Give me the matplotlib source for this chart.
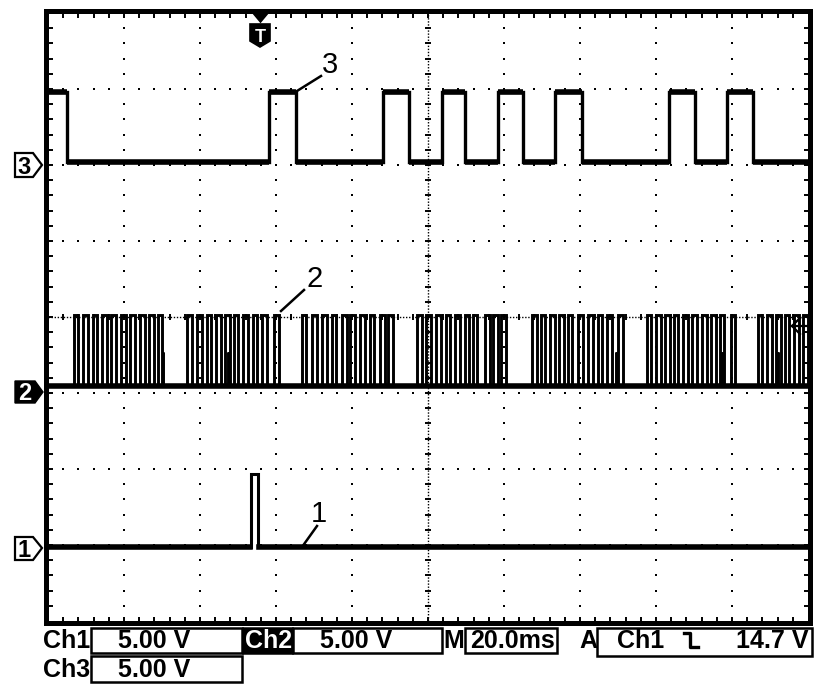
import matplotlib
matplotlib.use("Agg")
import matplotlib.pyplot as plt
from matplotlib.patches import Rectangle, Polygon
from matplotlib.lines import Line2D

plt.rcParams['font.family'] = ['Liberation Sans', 'DejaVu Sans']

W, H = 832, 690

# ---------------- data ----------------
TIME_PER_DIV = 20.0      # ms / div
VOLTS_PER_DIV = 5.0      # V / div
N_XDIV, N_YDIV = 10, 8

# channel ground markers (divisions from the bottom of the screen)
CH1_POS, CH2_POS, CH3_POS = 1.0, 3.0, 6.0

# Channel 3: starts high and toggles at each edge (ms)
CH3_LOW, CH3_HIGH = 0.2, 4.8
CH3_EDGES = [5.0, 58.2, 65.3, 88.2, 95.0, 103.7, 109.7, 118.4, 125.0,
             133.4, 140.5, 163.4, 170.3, 178.7, 185.5]

# Channel 1: single pulse (rise, fall) in ms
CH1_LOW, CH1_HIGH = -0.1, 4.7
CH1_PULSE = [53.4, 55.2]

# Channel 2: pulse bursts (rise times, ms)
CH2_LOW, CH2_HIGH = 0.45, 5.1
CH2_PULSE_WIDTH = 1.2
CH2_RISES = [
    6.8, 9.2, 11.8, 14.2, 16.6, 19.2, 21.6, 24.2, 26.6, 28.9,
    36.6, 39.2, 41.8, 44.2, 46.6, 48.9, 51.3, 53.9, 56.3, 59.5,
    66.8, 69.5, 72.1, 74.7, 77.4, 79.5, 82.1, 84.7, 87.4, 89.5,
    97.1, 99.5, 102.1, 104.7, 107.1, 109.7, 111.8, 115.0, 117.1, 119.2,
    127.4, 129.7, 132.1, 134.5, 136.8, 139.5, 142.1, 144.7, 147.1, 150.0,
    157.6, 160.0, 162.4, 164.7, 167.1, 169.5, 172.1, 174.5, 176.8, 179.7,
    186.8, 189.2, 191.6, 193.9, 196.3, 198.7,
]
CH2_GLITCH_LEVEL = 2.6
CH2_GLITCH_WIDTH = 0.3
CH2_GLITCHES = [30.3, 47.4, 149.5, 177.4, 192.1]

CH1_SCALE = "5.00 V"
CH2_SCALE = "5.00 V"
CH3_SCALE = "5.00 V"
TIMEBASE = "20.0ms"
TRIG_SRC = "Ch1"
TRIG_LEVEL = "14.7 V"

T_END = TIME_PER_DIV * N_XDIV


def to_div(pos, volts):
    return [pos + v / VOLTS_PER_DIV for v in volts]


def toggling(edges, start_high, low, high):
    level = high if start_high else low
    ts, vs = [0.0], [level]
    for e in edges:
        ts.append(e); vs.append(level)
        level = low if level == high else high
        ts.append(e); vs.append(level)
    ts.append(T_END); vs.append(level)
    return ts, vs


def pulses(rises, width, low, high):
    ts, vs = [0.0], [low]
    for r in rises:
        ts += [r, r, r + width, r + width]
        vs += [low, high, high, low]
    ts.append(T_END); vs.append(low)
    return ts, vs


fx = lambda x: x / W
fy = lambda y: 1 - y / H

fig = plt.figure(figsize=(W / 100, H / 100), dpi=100)
fig.patch.set_facecolor('white')
ax = fig.add_axes([fx(48), fy(621), 760 / W, 608 / H])
ax.set_xlim(0, T_END)
ax.set_ylim(0, N_YDIV)
ax.axis('off')

# ---------------- graticule ----------------
dot = dict(color='black', ls='none', marker='s', ms=1.6, mew=0)
sub_y = [0.2 * j for j in range(1, 5 * N_YDIV)]
sub_x = [TIME_PER_DIV / 5 * i for i in range(1, 5 * N_XDIV)]
for k in range(1, N_XDIV):
    if k == 5:
        continue
    ax.plot([k * TIME_PER_DIV] * len(sub_y), sub_y, **dot)
for k in range(1, N_YDIV):
    if k == 4:
        continue
    ax.plot(sub_x, [k] * len(sub_x), **dot)

# centre cross-hair
cx, cy = 5 * TIME_PER_DIV, 4
ax.plot([cx, cx], [0, N_YDIV], color='black', lw=1.0, ls=(0, (1, 1.2)))
ax.plot([0, T_END], [cy, cy], color='black', lw=1.0, ls=(0, (1, 1.2)))
ax.plot([cx] * len(sub_y), sub_y, color='black', ls='none', marker='_', ms=5, mew=1.4)
ax.plot(sub_x, [cy] * len(sub_x), color='black', ls='none', marker='|', ms=5, mew=1.4)

# edge ticks
e_y = 2.5 / 76
e_x = 2.5 / 76 * TIME_PER_DIV
ax.plot(sub_x, [N_YDIV - e_y] * len(sub_x), color='black', ls='none', marker='|', ms=3, mew=1.4, clip_on=False)
ax.plot(sub_x, [e_y] * len(sub_x), color='black', ls='none', marker='|', ms=3, mew=1.4, clip_on=False)
ax.plot([e_x] * len(sub_y), sub_y, color='black', ls='none', marker='_', ms=3, mew=1.4, clip_on=False)
ax.plot([T_END - e_x] * len(sub_y), sub_y, color='black', ls='none', marker='_', ms=3, mew=1.4, clip_on=False)

# ---------------- traces ----------------
# Channel 3
t3, v3 = toggling(CH3_EDGES, True, CH3_LOW, CH3_HIGH)
ax.plot(t3, to_div(CH3_POS, v3), color='black', lw=2.4, solid_joinstyle='miter', zorder=5)
lo3 = to_div(CH3_POS, [CH3_LOW])[0]
hi3 = to_div(CH3_POS, [CH3_HIGH])[0]
seg_t = [0.0] + CH3_EDGES + [T_END]
for i in range(len(seg_t) - 1):
    y = hi3 if i % 2 == 0 else lo3
    ax.plot([seg_t[i], seg_t[i + 1]], [y, y], color='black', lw=4.0,
            solid_capstyle='butt', zorder=5)

# Channel 1
t1, v1 = pulses([CH1_PULSE[0]], CH1_PULSE[1] - CH1_PULSE[0], CH1_LOW, CH1_HIGH)
ax.plot(t1, to_div(CH1_POS, v1), color='black', lw=2.2, solid_joinstyle='miter', zorder=5)
ax.plot([0, CH1_PULSE[0] - 0.3], to_div(CH1_POS, [CH1_LOW, CH1_LOW]), color='black', lw=4.0, zorder=5)
ax.plot([CH1_PULSE[1] + 0.3, T_END], to_div(CH1_POS, [CH1_LOW, CH1_LOW]), color='black', lw=4.0, zorder=5)

# Channel 2
t2, v2 = pulses(CH2_RISES, CH2_PULSE_WIDTH, CH2_LOW, CH2_HIGH)
ax.plot(t2, to_div(CH2_POS, v2), color='black', lw=2.1, solid_joinstyle='miter', zorder=5)
ax.plot([0, T_END], to_div(CH2_POS, [CH2_LOW, CH2_LOW]), color='black', lw=4.0, zorder=5)
tg, vg = pulses(CH2_GLITCHES, CH2_GLITCH_WIDTH, CH2_LOW, CH2_GLITCH_LEVEL)
ax.plot(tg, to_div(CH2_POS, vg), color='black', lw=1.4, zorder=5)

# ---------------- frame ----------------
fig.add_artist(Rectangle((fx(45.5), fy(622.5)), (810 - 45.5) / W, (622.5 - 10.5) / H,
                         transform=fig.transFigure, fill=False, lw=3.6, ec='black'))


def fpoly(pts, fc, ec='black', lw=1.2):
    fig.add_artist(Polygon([(fx(x), fy(y)) for x, y in pts], closed=True,
                           transform=fig.transFigure, fc=fc, ec=ec, lw=lw))


def fline(xs, ys, lw=1.5):
    fig.add_artist(Line2D([fx(x) for x in xs], [fy(y) for y in ys],
                          transform=fig.transFigure, color='black', lw=lw))


# trigger position marker
fpoly([(253, 13), (268, 13), (260.5, 22)], 'black')
fpoly([(250, 24), (270, 24), (270, 41), (260, 47), (250, 41)], 'black')
fig.text(fx(260), fy(42), "T", color='white', fontsize=13, fontweight='bold',
         ha='center', va='baseline')

# channel ground markers on the left
fpoly([(15, 153), (33, 153), (42, 165), (33, 177), (15, 177)], 'white', lw=1.6)
fig.text(fx(24), fy(174), "3", fontsize=17, fontweight='bold', ha='center', va='baseline')
fpoly([(15, 381), (35, 381), (43, 392), (35, 403), (15, 403)], 'black', lw=1.0)
fig.text(fx(25), fy(400), "2", fontsize=17, fontweight='bold', ha='center', va='baseline', color='white')
fpoly([(15, 537), (33, 537), (42, 548), (33, 560), (15, 560)], 'white', lw=1.6)
fig.text(fx(24), fy(557), "1", fontsize=17, fontweight='bold', ha='center', va='baseline')

# trigger level arrow on the right
fline([800, 792, 800], [318, 326, 334], lw=1.6)
fline([792, 807], [326, 326], lw=1.6)

# trace labels with leader lines
fig.text(fx(330), fy(73), "3", fontsize=21, ha='center', va='baseline')
fline([321, 297], [76, 91], lw=1.8)
fig.text(fx(315), fy(287), "2", fontsize=21, ha='center', va='baseline')
fline([304, 281], [290, 311], lw=1.8)
fig.text(fx(319), fy(522), "1", fontsize=21, ha='center', va='baseline')
fline([317, 302], [526, 547], lw=1.8)

# ---------------- status bar ----------------
bold = dict(fontsize=18, fontweight='bold', va='baseline')


def fbox(x0, y0, x1, y1, fc='none'):
    fig.add_artist(Rectangle((fx(x0), fy(y1)), (x1 - x0) / W, (y1 - y0) / H,
                             transform=fig.transFigure, fill=(fc != 'none'),
                             fc=fc if fc != 'none' else 'white', ec='black', lw=1.8))


row1, row2 = 648, 677
fig.text(fx(43), fy(row1), "Ch1", ha='left', **bold)
fbox(91, 628, 242, 653)
fig.text(fx(118), fy(row1), CH1_SCALE, ha='left', **bold)

fbox(243, 628, 292, 653, fc='black')
fig.text(fx(245), fy(row1), "Ch2", ha='left', color='white', **bold)
fbox(293, 628, 442, 653)
fig.text(fx(320), fy(row1), CH2_SCALE, ha='left', **bold)

fig.text(fx(443), fy(row1), "M", ha='left', **bold)
fbox(465, 628, 557, 653)
fig.text(fx(470), fy(row1), TIMEBASE, ha='left', **bold)

fig.text(fx(579), fy(row1), "A", ha='left', **bold)
fbox(597, 628, 812, 656)
fig.text(fx(617), fy(row1), TRIG_SRC, ha='left', **bold)
fline([684, 690, 690, 698], [633, 633, 647, 647], lw=2.4)
fig.text(fx(808), fy(row1), TRIG_LEVEL, ha='right', **bold)

fig.text(fx(43), fy(row2), "Ch3", ha='left', **bold)
fbox(91, 656, 242, 682)
fig.text(fx(118), fy(row2), CH3_SCALE, ha='left', **bold)

fig.savefig("out.png", dpi=100, facecolor='white')
